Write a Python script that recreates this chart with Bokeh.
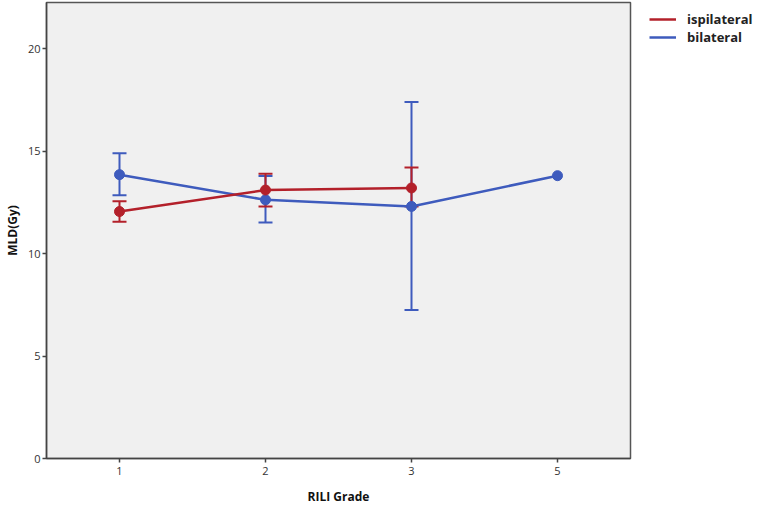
from bokeh.plotting import figure
from bokeh.models import ColumnDataSource, Whisker, TeeHead, Legend, LegendItem, Range1d, FactorRange
from bokeh.embed import file_html
from bokeh.resources import INLINE

grades = ["1", "2", "3", "5"]

ipsi_grades = ["1", "2", "3"]
ipsi_mean = [12.05, 13.1, 13.2]
ipsi_lower = [11.55, 12.3, 12.3]
ipsi_upper = [12.55, 13.9, 14.2]

bi_grades = ["1", "2", "3", "5"]
bi_mean = [13.85, 12.62, 12.3, 13.8]
bi_err_grades = ["1", "2", "3"]
bi_lower = [12.85, 11.52, 7.25]
bi_upper = [14.9, 13.78, 17.4]

RED = "#b3202a"
BLUE = "#3e5bbd"

p = figure(x_range=FactorRange(*grades, range_padding=0), y_range=Range1d(0, 22.25),
           frame_width=584, frame_height=456,
           min_border_left=35, min_border_right=125, min_border_top=2, min_border_bottom=41,
           output_backend="svg", toolbar_location=None,
           background_fill_color="white", border_fill_color="white")
p.background_fill_color = "#f0f0f0"
p.outline_line_color = "#555555"
p.outline_line_width = 1.5
p.xgrid.visible = False
p.ygrid.visible = False

for ax in (p.xaxis, p.yaxis):
    ax.axis_line_color = "#444444"
    ax.axis_line_width = 1.5
    ax.major_tick_line_color = "#444444"
    ax.major_tick_line_width = 1.5
    ax.major_tick_out = 4
    ax.major_tick_in = 0
    ax.minor_tick_line_color = None
    ax.major_label_text_font = "Open Sans"
    ax.major_label_text_font_size = "11px"
    ax.major_label_text_color = "#333333"
    ax.axis_label_text_font = "Open Sans"
    ax.axis_label_text_font_style = "bold"
    ax.axis_label_text_color = "#111111"

p.yaxis.ticker = [0, 5, 10, 15, 20]
p.yaxis.axis_label = "MLD(Gy)"
p.yaxis.axis_label_text_font_size = "12px"
p.yaxis.major_label_standoff = 2
p.yaxis.axis_label_standoff = 4
p.xaxis.axis_label = "RILI Grade"
p.xaxis.axis_label_text_font_size = "12px"
p.xaxis.major_label_standoff = 4
p.xaxis.axis_label_standoff = 10

src_i = ColumnDataSource(dict(x=ipsi_grades, y=ipsi_mean, lo=ipsi_lower, hi=ipsi_upper))
src_b = ColumnDataSource(dict(x=bi_grades, y=bi_mean))
src_be = ColumnDataSource(dict(x=bi_err_grades, lo=bi_lower, hi=bi_upper))

def add_whisker(src, color):
    w = Whisker(base="x", lower="lo", upper="hi", source=src,
                line_color=color, line_width=2,
                upper_head=TeeHead(size=14, line_color=color, line_width=2),
                lower_head=TeeHead(size=14, line_color=color, line_width=2))
    p.add_layout(w)

add_whisker(src_be, BLUE)
add_whisker(src_i, RED)

lb = p.line("x", "y", source=src_b, line_color=BLUE, line_width=2.5)
p.scatter("x", "y", source=src_b, size=10, color=BLUE)
lr = p.line("x", "y", source=src_i, line_color=RED, line_width=2.5)
p.scatter("x", "y", source=src_i, size=10, color=RED)

legend = Legend(items=[LegendItem(label="ispilateral", renderers=[lr]),
                       LegendItem(label="bilateral", renderers=[lb])],
                location=(19, 412), border_line_color=None, background_fill_alpha=0,
                label_text_font="Open Sans", label_text_font_style="bold",
                label_text_font_size="13px", label_text_color="#222222",
                glyph_width=27, glyph_height=14, label_height=14, spacing=-2,
                padding=0, margin=0, label_standoff=11)
p.add_layout(legend, "right")

open("out.html", "w").write(file_html(p, INLINE))
